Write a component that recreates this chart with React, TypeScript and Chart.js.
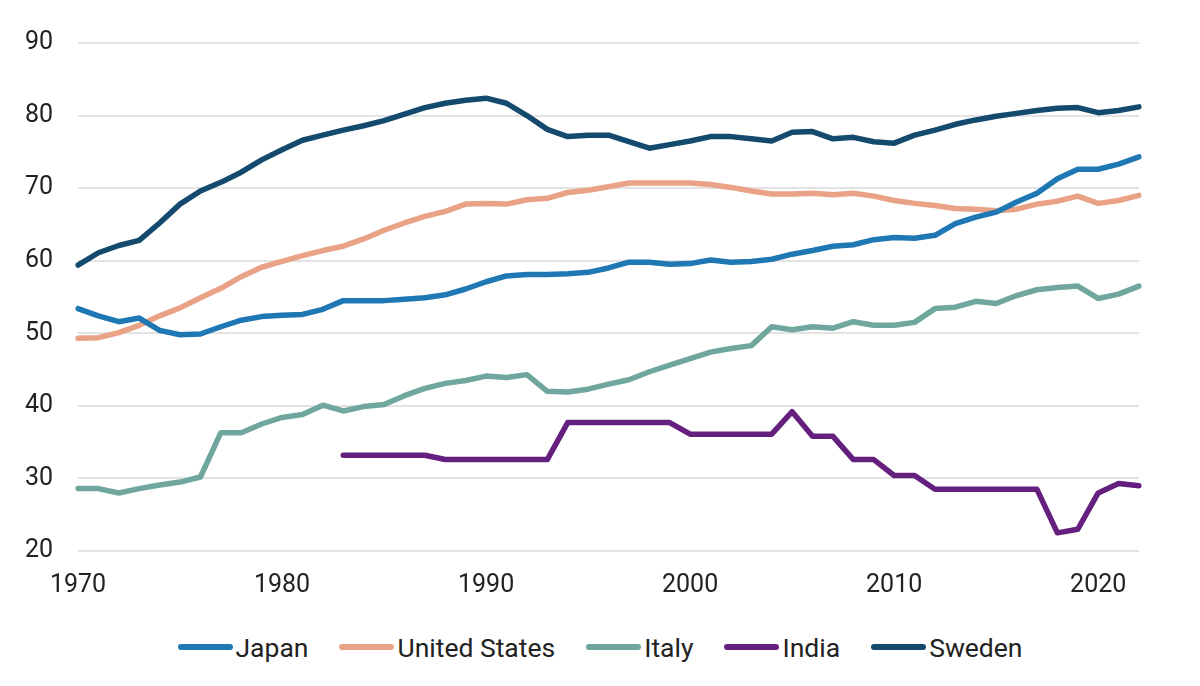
import React, { useEffect, useRef } from 'react';
import Chart from 'chart.js/auto';

const years = [
  '1970', '1971', '1972', '1973', '1974', '1975', '1976', '1977', '1978', '1979',
  '1980', '1981', '1982', '1983', '1984', '1985', '1986', '1987', '1988', '1989',
  '1990', '1991', '1992', '1993', '1994', '1995', '1996', '1997', '1998', '1999',
  '2000', '2001', '2002', '2003', '2004', '2005', '2006', '2007', '2008', '2009',
  '2010', '2011', '2012', '2013', '2014', '2015', '2016', '2017', '2018', '2019',
  '2020', '2021', '2022',
];

const japan = [
  53.4, 52.4, 51.6, 52.1, 50.4, 49.8, 49.9, 50.9, 51.8, 52.3,
  52.5, 52.6, 53.3, 54.5, 54.5, 54.5, 54.7, 54.9, 55.3, 56.1,
  57.1, 57.9, 58.1, 58.1, 58.2, 58.4, 59.0, 59.8, 59.8, 59.5,
  59.6, 60.1, 59.8, 59.9, 60.2, 60.9, 61.4, 62.0, 62.2, 62.9,
  63.2, 63.1, 63.5, 65.1, 66.0, 66.7, 68.1, 69.3, 71.3, 72.6,
  72.6, 73.3, 74.3,
];

const unitedStates = [
  49.3, 49.4, 50.1, 51.1, 52.4, 53.5, 54.9, 56.2, 57.8, 59.1,
  59.9, 60.7, 61.4, 62.0, 63.0, 64.2, 65.2, 66.1, 66.8, 67.8,
  67.9, 67.8, 68.4, 68.6, 69.4, 69.7, 70.2, 70.7, 70.7, 70.7,
  70.7, 70.5, 70.1, 69.6, 69.2, 69.2, 69.3, 69.1, 69.3, 68.9,
  68.3, 67.9, 67.6, 67.2, 67.1, 66.9, 67.1, 67.8, 68.2, 68.9,
  67.9, 68.3, 69.0,
];

const italy = [
  28.6, 28.6, 28.0, 28.6, 29.1, 29.5, 30.2, 36.3, 36.3, 37.5,
  38.4, 38.8, 40.1, 39.3, 39.9, 40.2, 41.4, 42.4, 43.1, 43.5,
  44.1, 43.9, 44.3, 42.0, 41.9, 42.3, 43.0, 43.6, 44.7, 45.6,
  46.5, 47.4, 47.9, 48.3, 50.9, 50.5, 50.9, 50.7, 51.6, 51.1,
  51.1, 51.5, 53.4, 53.6, 54.4, 54.1, 55.2, 56.0, 56.3, 56.5,
  54.8, 55.4, 56.5,
];

const india = [
  null, null, null, null, null, null, null, null, null, null,
  null, null, null, 33.2, 33.2, 33.2, 33.2, 33.2, 32.6, 32.6,
  32.6, 32.6, 32.6, 32.6, 37.7, 37.7, 37.7, 37.7, 37.7, 37.7,
  36.1, 36.1, 36.1, 36.1, 36.1, 39.2, 35.8, 35.8, 32.6, 32.6,
  30.4, 30.4, 28.5, 28.5, 28.5, 28.5, 28.5, 28.5, 22.5, 23.0,
  28.0, 29.3, 29.0,
];

const sweden = [
  59.4, 61.1, 62.1, 62.8, 65.2, 67.8, 69.6, 70.8, 72.2, 73.9,
  75.3, 76.6, 77.3, 78.0, 78.6, 79.3, 80.2, 81.1, 81.7, 82.1,
  82.4, 81.7, 80.0, 78.1, 77.1, 77.3, 77.3, 76.4, 75.5, 76.0,
  76.5, 77.1, 77.1, 76.8, 76.5, 77.7, 77.8, 76.8, 77.0, 76.4,
  76.2, 77.3, 78.0, 78.8, 79.4, 79.9, 80.3, 80.7, 81.0, 81.1,
  80.4, 80.7, 81.2,
];

const seriesNames = ['Japan', 'United States', 'Italy', 'India', 'Sweden'];
const seriesColors = ['#1f78b4', '#e9a285', '#6fa79e', '#65207f', '#144a6e'];
const seriesValues = [japan, unitedStates, italy, india, sweden];

const FONT = 'Roboto, "Noto Sans", sans-serif';

const App: React.FC = () => {
  const canvasRef = useRef<HTMLCanvasElement | null>(null);

  useEffect(() => {
    if (!canvasRef.current) return;
    const chart = new Chart(canvasRef.current, {
      type: 'line',
      data: {
        labels: years,
        datasets: seriesNames.map((name, i) => ({
          label: name,
          data: seriesValues[i],
          borderColor: seriesColors[i],
          backgroundColor: seriesColors[i],
          borderWidth: 5.5,
          pointRadius: 0,
          borderJoinStyle: 'round' as const,
          borderCapStyle: 'round' as const,
          tension: 0,
          spanGaps: false,
        })),
      },
      options: {
        animation: false,
        responsive: true,
        maintainAspectRatio: false,
        layout: { padding: { left: 0, right: 61, top: 43, bottom: 0 } },
        plugins: {
          legend: { display: false },
          tooltip: { enabled: false },
        },
        scales: {
          x: {
            grid: { display: false },
            border: { display: false },
            afterFit: (scale: any) => {
              scale.height = 59;
            },
            ticks: {
              autoSkip: false,
              maxRotation: 0,
              padding: 12,
              color: '#222',
              font: { family: FONT, size: 25 },
              callback: (_v: any, idx: number) => (Number(years[idx]) % 10 === 0 ? years[idx] : ''),
            },
          },
          y: {
            min: 20,
            max: 90,
            grid: { color: '#e3e3e3', lineWidth: 2, drawTicks: false },
            border: { display: false },
            afterFit: (scale: any) => {
              scale.width = 78;
            },
            ticks: {
              stepSize: 10,
              padding: 25,
              color: '#222',
              font: { family: FONT, size: 25 },
            },
          },
        },
      },
    });
    return () => {
      chart.destroy();
    };
  }, []);

  return (
    <div style={{ position: 'absolute', left: 0, top: 0, width: 1200, height: 686, background: '#fff' }}>
      <div style={{ position: 'relative', width: 1200, height: 610 }}>
        <canvas ref={canvasRef} />
      </div>
      <div
        style={{
          position: 'absolute',
          left: 0,
          top: 628,
          width: 1200,
          height: 38,
          display: 'flex',
          justifyContent: 'center',
          alignItems: 'center',
          fontFamily: FONT,
          fontSize: 26.5,
          color: '#222',
        }}
      >
        {seriesNames.map((name, i) => (
          <div key={name} style={{ display: 'flex', alignItems: 'center', marginLeft: i === 0 ? 0 : 31 }}>
            <span style={{ display: 'inline-block', width: 55, height: 6, borderRadius: 3, background: seriesColors[i] }} />
            <span style={{ marginLeft: 3 }}>{name}</span>
          </div>
        ))}
      </div>
    </div>
  );
};

export default App;
